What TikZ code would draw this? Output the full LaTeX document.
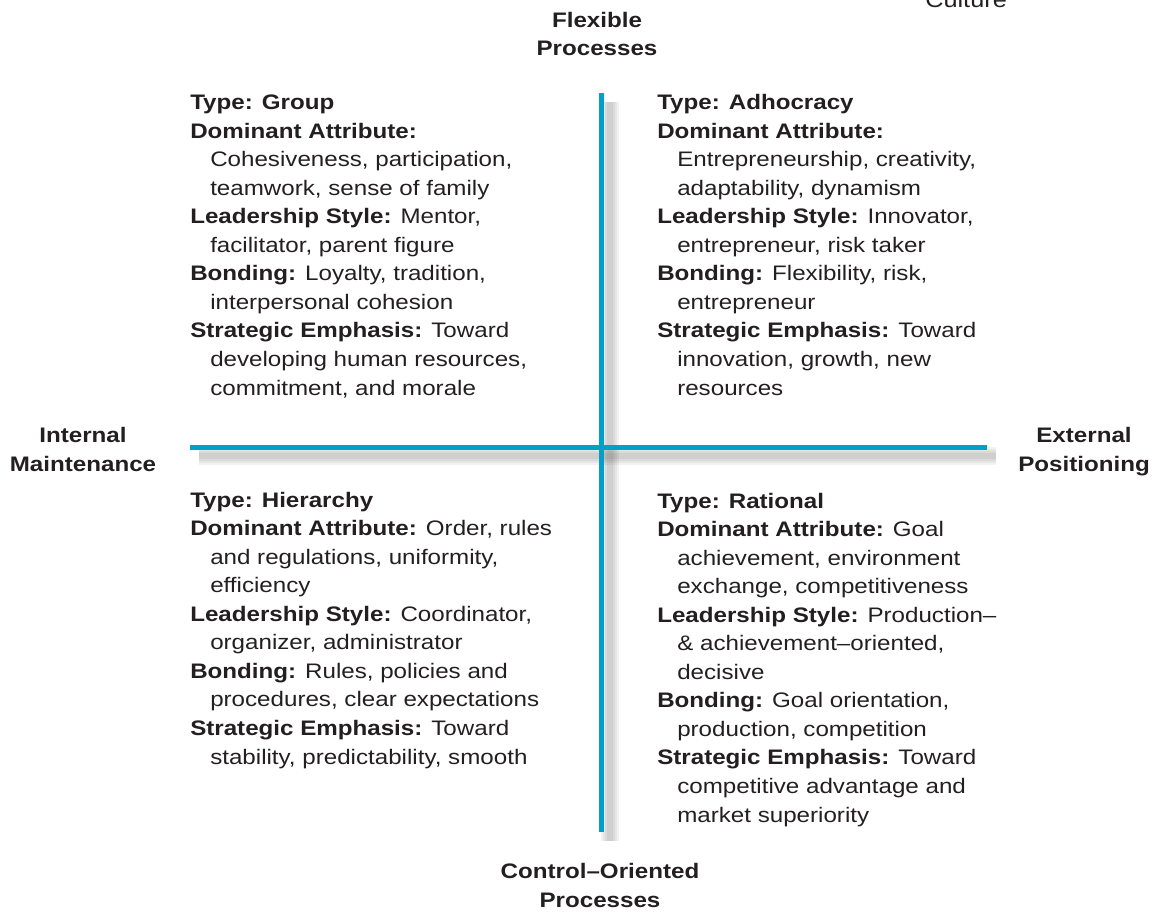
\documentclass[tikz,border=0pt]{standalone}
\usepackage{fontspec}
\setmainfont{Liberation Sans}[FakeStretch=1.15]
\definecolor{ink}{RGB}{35,31,32}
\definecolor{axisblue}{RGB}{0,160,202}
\newcommand{\quadfont}{\fontsize{15.75pt}{21.4pt}\selectfont}
\newcommand{\ind}{\hspace*{15pt}}
\tikzset{
  quad/.style={anchor=base west, align=left, inner sep=0pt, text=ink, font=\quadfont},
  axislabel/.style={anchor=base, align=center, inner sep=0pt, text=ink, font=\quadfont\bfseries},
  axisline/.style={line width=3.75pt, draw=axisblue},
  axisshadow/.style={line width=#1, draw=black, opacity=0.05},
}
\begin{document}
\begin{tikzpicture}[x=0.75pt,y=-0.75pt]
\useasboundingbox (0,0) rectangle (1155,913);

\coordinate (vtop) at (601,93);
\coordinate (vbot) at (601,832);
\coordinate (hleft) at (190,447);
\coordinate (hright) at (987,447);

\foreach \w in {14pt,11pt,8pt,5pt} {
  \path[axisshadow=\w] ([shift={(9,9)}]vtop) -- ([shift={(9,9)}]vbot);
  \path[axisshadow=\w] ([shift={(9,9)}]hleft) -- ([shift={(9,9)}]hright);
}
\path[axisline] (vtop) -- (vbot);
\path[axisline] (hleft) -- (hright);

% base = last line of each node
\node[axislabel] (flexible) at (597,56) {Flexible\\Processes};
\node[axislabel] (control) at (600,907) {Control--Oriented\\Processes};
\node[axislabel] (internal) at (83,471) {Internal\\Maintenance};
\node[axislabel] (external) at (1084,471) {External\\Positioning};
\node[anchor=base west, inner sep=0pt, text=ink, font=\fontsize{16.5pt}{18pt}\selectfont] (culture) at (925,8) {Culture};

\node[quad] (group) at (190,395) {\textbf{Type: Group}\\
\textbf{Dominant Attribute:}\\
\ind Cohesiveness, participation,\\
\ind teamwork, sense of family\\
\textbf{Leadership Style:} Mentor,\\
\ind facilitator, parent figure\\
\textbf{Bonding:} Loyalty, tradition,\\
\ind interpersonal cohesion\\
\textbf{Strategic Emphasis:} Toward\\
\ind developing human resources,\\
\ind commitment, and morale};

\node[quad] (adhocracy) at (657,395) {\textbf{Type: Adhocracy}\\
\textbf{Dominant Attribute:}\\
\ind Entrepreneurship, creativity,\\
\ind adaptability, dynamism\\
\textbf{Leadership Style:} Innovator,\\
\ind entrepreneur, risk taker\\
\textbf{Bonding:} Flexibility, risk,\\
\ind entrepreneur\\
\textbf{Strategic Emphasis:} Toward\\
\ind innovation, growth, new\\
\ind resources};

\node[quad] (hierarchy) at (190,764) {\textbf{Type: Hierarchy}\\
\textbf{Dominant Attribute:} Order, rules\\
\ind and regulations, uniformity,\\
\ind efficiency\\
\textbf{Leadership Style:} Coordinator,\\
\ind organizer, administrator\\
\textbf{Bonding:} Rules, policies and\\
\ind procedures, clear expectations\\
\textbf{Strategic Emphasis:} Toward\\
\ind stability, predictability, smooth};

\node[quad] (rational) at (657,822) {\textbf{Type: Rational}\\
\textbf{Dominant Attribute:} Goal\\
\ind achievement, environment\\
\ind exchange, competitiveness\\
\textbf{Leadership Style:} Production--\\
\ind \& achievement--oriented,\\
\ind decisive\\
\textbf{Bonding:} Goal orientation,\\
\ind production, competition\\
\textbf{Strategic Emphasis:} Toward\\
\ind competitive advantage and\\
\ind market superiority};
\end{tikzpicture}
\end{document}
